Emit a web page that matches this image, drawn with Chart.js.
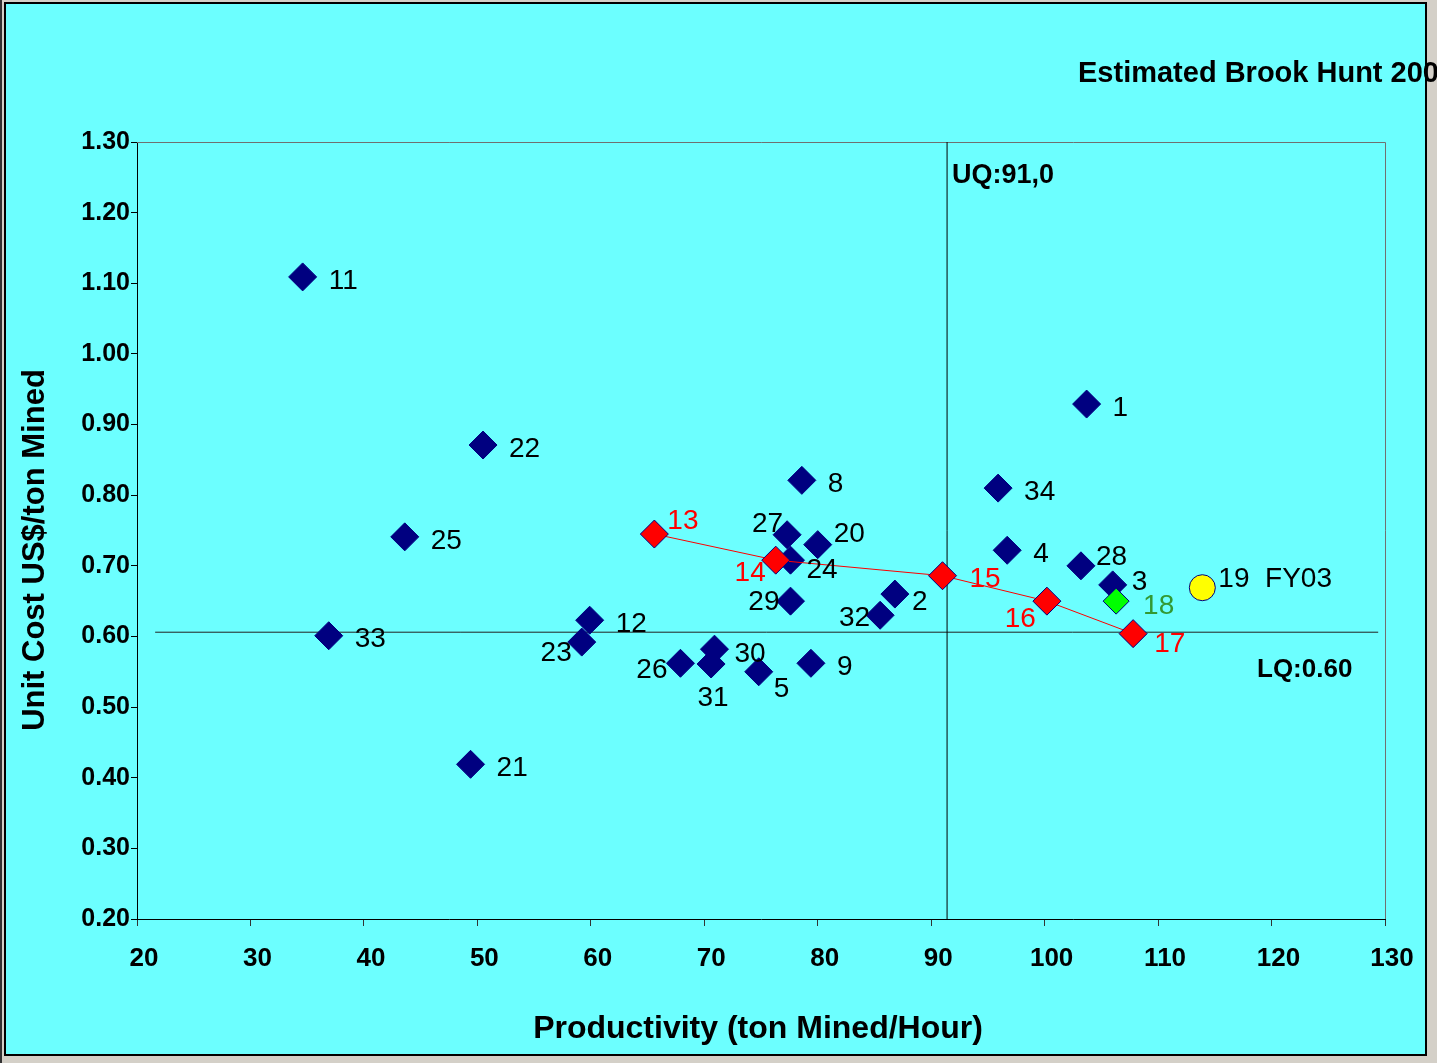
<!DOCTYPE html>
<html>
<head>
<meta charset="utf-8">
<script src="https://cdn.jsdelivr.net/npm/chart.js@4/dist/chart.umd.min.js"></script>
<style>
  html, body { margin: 0; padding: 0; background: #D4D0C8; }
  #wrap { width: 1437px; height: 1063px; }
</style>
</head>
<body>
<div id="wrap"><canvas id="c" width="1437" height="1063"></canvas></div>
<script>
// mines (navy diamonds)
const mineIds  = ['1','2','3','4','5','8','9','11','12','20','21','22','23','24','25','26','27','28','29','30','31','32','33','34'];
const mineProd = [103.7, 86.8, 106.0, 96.7, 74.8, 78.6, 79.4, 34.6, 59.9, 80.0, 49.4, 50.5, 59.2, 77.6, 43.6, 67.9, 77.3, 103.2, 77.6, 70.9, 70.6, 85.5, 36.9, 95.9];
const mineCost = [0.929, 0.660, 0.673, 0.722, 0.550, 0.821, 0.562, 1.109, 0.623, 0.730, 0.419, 0.871, 0.592, 0.708, 0.741, 0.562, 0.744, 0.700, 0.650, 0.582, 0.561, 0.630, 0.601, 0.810];

// red trend series
const trendIds  = ['13','14','15','16','17'];
const trendProd = [65.6, 76.3, 91.0, 100.2, 107.8];
const trendCost = [0.745, 0.708, 0.686, 0.650, 0.604];

const greenIds  = ['18'];
const greenProd = [106.3];
const greenCost = [0.650];

const fyIds  = ['19  FY03'];
const fyProd = [113.9];
const fyCost = [0.669];

// quartile lines
const uqValue = 91.4;
const lqValue = 0.606;

const xTicks = [20, 130, 10];   // min, max, step
const yTicks = [0.2, 1.3, 0.1];

function pts(xs, ys) { return xs.map((x, i) => ({x: x, y: ys[i]})); }

// where each label sits relative to its marker: [dx, dy, align]
const labelPos = {
  '23': [-10, 10, 'right'], '26': [-13, 6, 'right'], '30': [20, 4, 'left'],
  '31': [2, 33, 'center'], '5': [15, 17, 'left'], '29': [-11, 0, 'right'],
  '27': [-4, -11, 'right'], '24': [16, 9, 'left'], '20': [16, -11, 'left'],
  '13': [13, -14, 'left'], '14': [-10, 12, 'right'], '15': [27, 3, 'left'],
  '16': [-11, 17, 'right'], '17': [21, 10, 'left'], '32': [-10, 2, 'right'],
  '2': [17, 7, 'left'], '28': [15, -10, 'left'], '3': [19, -4, 'left'],
  '18': [27, 4, 'left'], '19  FY03': [16, -9, 'left']
};

const FONT = '"Liberation Sans", Arial, sans-serif';

const decor = {
  id: 'decor',
  beforeDraw(chart) {
    const ctx = chart.ctx;
    ctx.save();
    ctx.fillStyle = '#D4D0C8';
    ctx.fillRect(0, 0, 1437, 1063);
    ctx.fillStyle = '#333333';
    ctx.fillRect(0, 0, 2, 1063);
    ctx.fillStyle = '#000000';
    ctx.fillRect(4, 2, 1423, 1054);
    ctx.fillStyle = '#6CFFFF';
    ctx.fillRect(6, 4, 1419, 1050);
    ctx.restore();
  },
  beforeDatasetsDraw(chart) {
    const ctx = chart.ctx, a = chart.chartArea;
    ctx.save();
    ctx.strokeStyle = '#707070';
    ctx.lineWidth = 1;
    ctx.beginPath();
    ctx.moveTo(a.left, a.top + 0.5);
    ctx.lineTo(a.right + 0.5, a.top + 0.5);
    ctx.lineTo(a.right + 0.5, a.bottom);
    ctx.stroke();
    ctx.restore();
  },
  afterDatasetsDraw(chart) {
    const ctx = chart.ctx;
    ctx.save();
    ctx.textBaseline = 'middle';
    ctx.font = '28px ' + FONT;
    chart.data.datasets.forEach((ds, di) => {
      if (!ds.ids) return;
      const meta = chart.getDatasetMeta(di);
      meta.data.forEach((el, i) => {
        const id = ds.ids[i];
        const p = labelPos[id] || [26, 3, 'left'];
        ctx.fillStyle = ds.labelColor;
        ctx.textAlign = p[2];
        ctx.fillText(id, el.x + p[0], el.y + p[1] + 1);
      });
    });
    ctx.fillStyle = '#000';
    ctx.textAlign = 'left';
    ctx.font = 'bold 27px ' + FONT;
    ctx.fillText('UQ:91,0', 952, 176);
    ctx.font = 'bold 26px ' + FONT;
    ctx.fillText('LQ:0.60', 1257, 670);
    ctx.font = 'bold 32px ' + FONT;
    ctx.textAlign = 'center';
    ctx.fillText('Productivity (ton Mined/Hour)', 758, 1029);
    ctx.font = 'bold 31px ' + FONT;
    ctx.translate(35, 550);
    ctx.rotate(-Math.PI / 2);
    ctx.fillText('Unit Cost US$/ton Mined', 0, 0);
    ctx.restore();
  },
  afterDraw(chart) {
    const ctx = chart.ctx;
    ctx.save();
    ctx.font = 'bold 29px ' + FONT;
    ctx.fillStyle = '#000';
    ctx.textBaseline = 'middle';
    ctx.fillText('Estimated Brook Hunt 2003', 1078, 74);
    ctx.restore();
  }
};

const ctx = document.getElementById('c').getContext('2d');
new Chart(ctx, {
  type: 'scatter',
  data: {
    datasets: [{
      ids: trendIds,
      labelColor: '#FF0000',
      data: pts(trendProd, trendCost),
      showLine: true,
      borderColor: '#FF0000',
      borderWidth: 1,
      pointStyle: 'rectRot',
      pointRadius: 14,
      pointBackgroundColor: '#FF0000',
      pointBorderColor: '#000080',
      pointBorderWidth: 1,
      order: 1
    }, {
      ids: greenIds,
      labelColor: '#339933',
      data: pts(greenProd, greenCost),
      pointStyle: 'rectRot',
      pointRadius: 13,
      pointBackgroundColor: '#00FF00',
      pointBorderColor: '#000080',
      pointBorderWidth: 1,
      order: 0
    }, {
      ids: fyIds,
      labelColor: '#000',
      data: pts(fyProd, fyCost),
      pointStyle: 'circle',
      pointRadius: 13,
      pointBackgroundColor: '#FFFF00',
      pointBorderColor: '#000080',
      pointBorderWidth: 1,
      order: 0
    }, {
      ids: mineIds,
      labelColor: '#000',
      data: pts(mineProd, mineCost),
      pointStyle: 'rectRot',
      pointRadius: 14,
      pointBackgroundColor: '#000080',
      pointBorderColor: '#000080',
      pointBorderWidth: 1,
      order: 2
    }, {
      data: [{x: uqValue, y: yTicks[0]}, {x: uqValue, y: yTicks[1]}],
      showLine: true,
      borderColor: '#000',
      borderWidth: 1,
      pointRadius: 0,
      order: 3
    }, {
      data: [{x: 21.6, y: lqValue}, {x: 129.4, y: lqValue}],
      showLine: true,
      borderColor: '#222',
      borderWidth: 1,
      pointRadius: 0,
      order: 3
    }]
  },
  options: {
    responsive: false,
    animation: false,
    events: [],
    layout: { padding: { left: 0, right: 52, top: 142, bottom: 0 } },
    plugins: { legend: { display: false }, tooltip: { enabled: false } },
    scales: {
      x: {
        min: xTicks[0], max: xTicks[1],
        afterFit(s) { s.height = 144; },
        ticks: { stepSize: xTicks[2], color: '#000', padding: 17, labelOffset: 7,
                 font: { family: FONT, size: 26, weight: 'bold' } },
        grid: { drawOnChartArea: false, drawTicks: true, tickLength: 7, color: '#333' },
        border: { display: true, color: '#000', width: 1 }
      },
      y: {
        min: yTicks[0], max: yTicks[1],
        afterFit(s) { s.width = 137; },
        ticks: { stepSize: yTicks[2], color: '#000', padding: 1,
                 callback: v => Number(v).toFixed(2),
                 font: { family: FONT, size: 25, weight: 'bold' } },
        grid: { drawOnChartArea: false, drawTicks: true, tickLength: 6, color: '#000' },
        border: { display: true, color: '#000', width: 1 }
      }
    }
  },
  plugins: [decor]
});
</script>
</body>
</html>
